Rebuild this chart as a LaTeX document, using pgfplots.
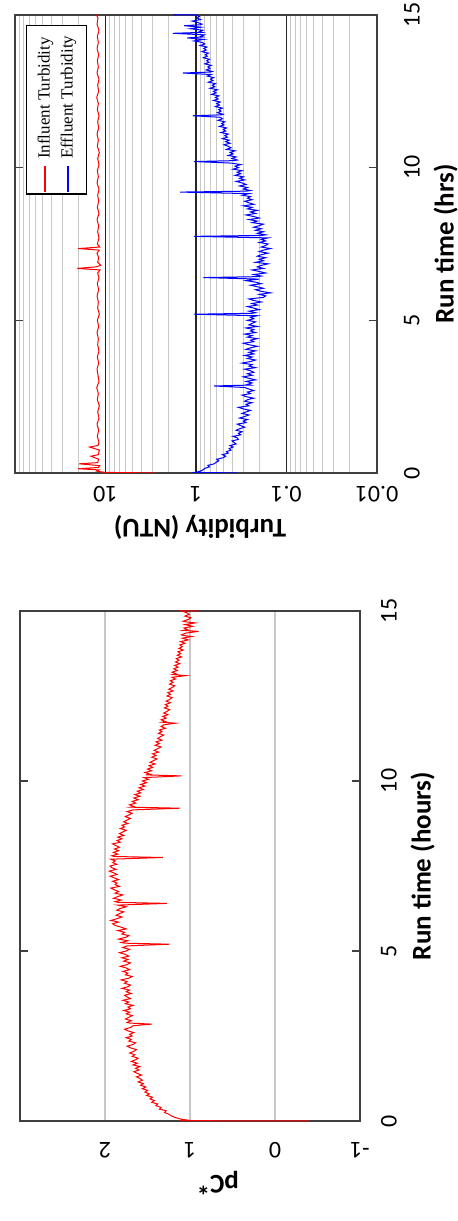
\documentclass[border=0pt]{standalone}
\usepackage{fontspec}
\setmainfont{Carlito}
\newfontfamily\legendfont{Liberation Serif}
\usepackage{pgfplots}
\pgfplotsset{compat=1.18}
\definecolor{framegray}{RGB}{64,64,64}
\definecolor{gridgray}{RGB}{200,200,200}

\pgfplotsset{
  rotated/.style={
    scale only axis,
    anchor=south west,
    ymin=0, ymax=15, ytick={0,5,10,15},
    yticklabel pos=right,
    ytick pos=both,
    tick align=inside,
    major tick length=4pt,
    x dir=reverse,
    axis line style={draw=framegray, line width=0.6pt},
    ytick style={draw=framegray, line width=0.6pt},
    xtick style={draw=none},
    /pgf/number format/assume math mode=true,
    tick label style={font=\fontsize{12}{14}\selectfont},
    x tick label style={rotate=180, anchor=south},
    y tick label style={rotate=90, anchor=north},
    label style={font=\fontsize{13.5}{16}\selectfont\bfseries},
    xlabel style={rotate=180, anchor=south},
    ylabel style={anchor=north},
  }
}

\begin{document}
\begin{tikzpicture}
\useasboundingbox (0,0) rectangle (229pt,610.5pt);

% turbidity, run time on the vertical axis
\begin{axis}[rotated,
  at={(7.5pt,374pt)}, width=181pt, height=229pt,
  xmode=log, xmin=0.01, xmax=100,
  xtick={0.01,0.1,1,10,100}, xticklabels={0.01,0.1,1,10,},
  minor xtick={0.02,0.03,0.04,0.05,0.06,0.07,0.08,0.09,0.2,0.3,0.4,0.5,0.6,0.7,0.8,0.9,2,3,4,5,6,7,8,9,20,30,40,50,60,70,80,90},
  xmajorgrids, xminorgrids,
  major x grid style={draw=black!85, line width=0.7pt},
  minor x grid style={draw=gridgray, line width=0.4pt},
  xticklabel shift=3pt, yticklabel shift=10pt,
  xlabel={Turbidity (NTU)}, ylabel={Run time (hrs)},
  xlabel style={at={(ticklabel cs:0.511)}},
]
\addplot[red, line width=0.5pt] table[x=ntu, y=t] {
t ntu
0.00 2.8
0.02 10.2
0.06 12.5
0.10 11.8
0.14 20.0
0.18 12.0
0.24 11.6
0.30 19.5
0.34 12.2
0.45 11.9
0.55 14.5
0.60 12.0
0.75 11.7
0.85 15.0
0.90 12.1
1.0 11.8
1.2 12.3
1.4 11.9
1.6 12.4
1.8 11.8
2.0 12.2
2.2 11.7
2.4 12.3
2.6 12.0
2.8 12.5
3.0 11.8
3.2 12.1
3.4 12.4
3.6 11.9
3.8 12.3
4.0 11.8
4.2 12.2
4.4 12.0
4.6 12.4
4.8 11.9
5.0 12.3
5.2 11.7
5.4 12.2
5.6 12.0
5.8 12.4
6.0 11.9
6.2 12.3
6.4 11.8
6.55 12.2
6.65 11.5
6.70 20.5
6.75 12.8
6.80 11.3
6.9 12.2
7.05 11.9
7.2 12.4
7.3 11.7
7.35 20.0
7.40 11.6
7.5 12.3
7.7 11.8
7.9 12.2
8.1 11.9
8.3 12.4
8.5 11.8
8.7 12.3
8.9 11.9
9.1 12.2
9.3 11.8
9.5 12.4
9.7 12.0
9.9 12.3
10.1 11.8
10.3 12.2
10.5 11.7
10.7 12.3
10.9 12.0
11.1 12.4
11.3 11.9
11.5 12.2
11.7 11.8
11.9 12.3
12.1 12.0
12.3 12.5
12.5 11.9
12.7 12.2
12.9 11.8
13.1 12.4
13.3 12.0
13.5 12.3
13.7 11.9
13.9 12.4
14.1 12.0
14.3 12.3
14.5 11.8
14.7 12.4
14.9 12.1
15.0 12.6
};
\addplot[blue, line width=0.5pt] table[x=ntu, y=t] {
t ntu
0.00 0.35
0.02 1.02
0.05 0.92
0.10 0.84
0.15 0.80
0.20 0.71
0.25 0.74
0.30 0.63
0.35 0.60
0.40 0.56
0.45 0.59
0.50 0.50
0.55 0.47
0.60 0.51
0.65 0.44
0.70 0.46
0.75 0.41
0.80 0.43
0.85 0.39
0.90 0.42
0.95 0.36
1.00 0.38
1.05 0.40
1.10 0.34
1.15 0.35
1.20 0.39
1.25 0.32
1.30 0.34
1.35 0.31
1.40 0.36
1.45 0.33
1.50 0.29
1.55 0.32
1.60 0.35
1.65 0.28
1.70 0.30
1.75 0.27
1.80 0.33
1.85 0.29
1.90 0.26
1.95 0.31
2.00 0.28
2.05 0.25
2.10 0.30
2.15 0.34
2.20 0.26
2.25 0.28
2.30 0.24
2.35 0.29
2.40 0.27
2.45 0.23
2.50 0.28
2.55 0.31
2.60 0.25
2.65 0.27
2.70 0.23
2.75 0.26
2.80 0.29
2.85 0.63
2.88 0.25
2.90 0.27
2.95 0.24
3.00 0.28
3.05 0.22
3.10 0.26
3.15 0.30
3.20 0.24
3.25 0.27
3.30 0.23
3.35 0.25
3.40 0.29
3.45 0.22
3.50 0.26
3.55 0.24
3.60 0.31
3.65 0.25
3.70 0.22
3.75 0.27
3.80 0.24
3.85 0.29
3.90 0.23
3.95 0.26
4.00 0.22
4.05 0.28
4.10 0.25
4.15 0.21
4.20 0.26
4.25 0.30
4.30 0.23
4.35 0.25
4.40 0.21
4.45 0.27
4.50 0.24
4.55 0.29
4.60 0.22
4.65 0.25
4.70 0.23
4.75 0.28
4.80 0.21
4.85 0.26
4.90 0.24
4.95 0.22
5.00 0.27
5.05 0.23
5.10 0.25
5.15 0.21
5.20 1.05
5.23 0.24
5.25 0.22
5.30 0.26
5.35 0.20
5.40 0.23
5.45 0.27
5.50 0.21
5.55 0.24
5.60 0.19
5.65 0.23
5.70 0.26
5.75 0.18
5.80 0.17
5.85 0.20
5.90 0.15
5.95 0.19
6.00 0.22
6.05 0.18
6.10 0.21
6.15 0.25
6.20 0.19
6.25 0.22
6.30 0.28
6.35 0.20
6.40 0.83
6.43 0.21
6.45 0.19
6.50 0.23
6.55 0.17
6.60 0.20
6.65 0.24
6.70 0.18
6.75 0.21
6.80 0.19
6.85 0.16
6.90 0.22
6.95 0.18
7.00 0.20
7.05 0.17
7.10 0.21
7.15 0.19
7.20 0.16
7.25 0.20
7.30 0.18
7.35 0.15
7.40 0.19
7.45 0.17
7.50 0.16
7.55 0.20
7.60 0.17
7.65 0.19
7.70 0.16
7.75 1.05
7.78 0.19
7.80 0.17
7.85 0.21
7.90 0.18
7.95 0.22
8.00 0.19
8.05 0.23
8.10 0.20
8.15 0.18
8.20 0.24
8.25 0.21
8.30 0.26
8.35 0.20
8.40 0.23
8.45 0.28
8.50 0.22
8.55 0.25
8.60 0.21
8.65 0.27
8.70 0.24
8.75 0.30
8.80 0.23
8.85 0.26
8.90 0.29
8.95 0.24
9.00 0.27
9.05 0.25
9.10 0.31
9.15 0.26
9.20 1.50
9.23 0.28
9.25 0.25
9.30 0.30
9.35 0.27
9.40 0.33
9.45 0.28
9.50 0.31
9.55 0.36
9.60 0.29
9.65 0.33
9.70 0.30
9.75 0.37
9.80 0.32
9.85 0.35
9.90 0.31
9.95 0.39
10.00 0.34
10.05 0.37
10.10 0.32
10.15 0.41
10.20 1.05
10.23 0.38
10.25 0.35
10.30 0.40
10.35 0.36
10.40 0.44
10.45 0.39
10.50 0.42
10.55 0.37
10.60 0.46
10.65 0.41
10.70 0.44
10.75 0.49
10.80 0.42
10.85 0.47
10.90 0.43
10.95 0.51
11.00 0.45
11.05 0.48
11.10 0.44
11.15 0.53
11.20 0.47
11.25 0.50
11.30 0.46
11.35 0.55
11.40 0.49
11.45 0.52
11.50 0.48
11.55 0.57
11.60 0.51
11.65 0.54
11.70 1.08
11.73 0.52
11.75 0.50
11.80 0.58
11.85 0.53
11.90 0.56
11.95 0.51
12.00 0.61
12.05 0.55
12.10 0.59
12.15 0.54
12.20 0.64
12.25 0.57
12.30 0.61
12.35 0.56
12.40 0.67
12.45 0.60
12.50 0.64
12.55 0.58
12.60 0.70
12.65 0.62
12.70 0.66
12.75 0.61
12.80 0.73
12.85 0.65
12.90 0.69
12.95 0.64
13.00 0.75
13.05 0.68
13.10 1.40
13.13 0.70
13.15 0.66
13.20 0.77
13.25 0.70
13.30 0.74
13.35 0.68
13.40 0.80
13.45 0.72
13.50 0.76
13.55 0.71
13.60 0.83
13.65 0.75
13.70 0.79
13.75 0.73
13.80 0.86
13.85 0.77
13.90 0.82
13.95 0.76
14.00 0.90
14.05 0.80
14.10 0.85
14.15 1.05
14.20 0.82
14.25 1.25
14.28 0.84
14.30 0.88
14.35 0.81
14.40 1.80
14.43 0.86
14.45 0.92
14.50 0.84
14.55 1.15
14.60 0.88
14.65 1.35
14.68 0.90
14.70 0.86
14.75 0.95
14.80 1.10
14.85 0.89
14.90 0.97
14.95 0.92
15.00 1.00
15.00 1.80
};
\node[rotate=90, anchor=north east, draw=black, fill=white, line width=0.6pt,
  inner xsep=1pt, inner ysep=3.5pt, font=\legendfont\fontsize{8.5}{11.5}\selectfont]
  at (rel axis cs:0.03,0.978) {%
  \begin{tabular}{@{}l@{\hspace{3.5pt}}l@{\hspace{4pt}}}
  \textcolor{red}{\rule[0.5ex]{13pt}{0.6pt}} & Influent Turbidity\\
  \textcolor{blue}{\rule[0.5ex]{13pt}{0.6pt}} & Effluent Turbidity
  \end{tabular}};
\end{axis}

% pC*, run time on the vertical axis
\begin{axis}[rotated,
  at={(10pt,50pt)}, width=170pt, height=255pt,
  xmin=-1, xmax=3,
  xtick={-1,0,1,2}, xticklabels={-1,0,1,2},
  xmajorgrids,
  major x grid style={draw=gridgray, line width=0.6pt},
  xticklabel shift=7pt, yticklabel shift=7pt,
  xlabel={pC*}, ylabel={Run time (hours)},
  xlabel style={at={(ticklabel cs:0.582)}},
]
\addplot[red, line width=0.5pt] table[x=pc, y=t] {
t pc
0.00 -0.41
0.01 1.12
0.03 1.04
0.05 1.10
0.10 1.17
0.15 1.22
0.20 1.25
0.25 1.30
0.30 1.28
0.35 1.36
0.40 1.34
0.45 1.40
0.50 1.38
0.55 1.45
0.60 1.42
0.65 1.47
0.70 1.44
0.75 1.51
0.80 1.48
0.85 1.53
0.90 1.50
0.95 1.56
1.00 1.52
1.05 1.58
1.10 1.55
1.15 1.61
1.20 1.56
1.25 1.59
1.30 1.63
1.35 1.57
1.40 1.62
1.45 1.66
1.50 1.60
1.55 1.64
1.60 1.59
1.65 1.67
1.70 1.62
1.75 1.69
1.80 1.64
1.85 1.61
1.90 1.68
1.95 1.65
2.00 1.71
2.05 1.66
2.10 1.63
2.15 1.70
2.20 1.74
2.25 1.67
2.30 1.64
2.35 1.72
2.40 1.69
2.45 1.75
2.50 1.68
2.55 1.71
2.60 1.66
2.65 1.73
2.70 1.77
2.75 1.70
2.80 1.67
2.85 1.45
2.88 1.71
2.90 1.74
2.95 1.69
3.00 1.76
3.05 1.72
3.10 1.68
3.15 1.75
3.20 1.71
3.25 1.78
3.30 1.70
3.35 1.73
3.40 1.67
3.45 1.76
3.50 1.72
3.55 1.79
3.60 1.70
3.65 1.74
3.70 1.77
3.75 1.69
3.80 1.75
3.85 1.71
3.90 1.80
3.95 1.73
4.00 1.70
4.05 1.77
4.10 1.74
4.15 1.81
4.20 1.72
4.25 1.68
4.30 1.76
4.35 1.73
4.40 1.79
4.45 1.71
4.50 1.75
4.55 1.82
4.60 1.74
4.65 1.70
4.70 1.78
4.75 1.73
4.80 1.80
4.85 1.72
4.90 1.76
4.95 1.83
5.00 1.75
5.05 1.71
5.10 1.79
5.15 1.74
5.20 1.24
5.23 1.77
5.25 1.81
5.30 1.73
5.35 1.84
5.40 1.76
5.45 1.72
5.50 1.80
5.55 1.77
5.60 1.85
5.65 1.75
5.70 1.81
5.75 1.88
5.80 1.91
5.85 1.84
5.90 1.93
5.95 1.86
6.00 1.80
6.05 1.87
6.10 1.83
6.15 1.78
6.20 1.86
6.25 1.82
6.30 1.75
6.35 1.85
6.40 1.27
6.43 1.84
6.45 1.88
6.50 1.81
6.55 1.90
6.60 1.85
6.65 1.79
6.70 1.88
6.75 1.84
6.80 1.89
6.85 1.93
6.90 1.83
6.95 1.88
7.00 1.86
7.05 1.91
7.10 1.84
7.15 1.89
7.20 1.94
7.25 1.86
7.30 1.90
7.35 1.95
7.40 1.87
7.45 1.92
7.50 1.94
7.55 1.86
7.60 1.91
7.65 1.88
7.70 1.93
7.75 1.32
7.78 1.89
7.80 1.92
7.85 1.85
7.90 1.90
7.95 1.84
8.00 1.89
8.05 1.83
8.10 1.87
8.15 1.91
8.20 1.82
8.25 1.86
8.30 1.80
8.35 1.85
8.40 1.78
8.45 1.83
8.50 1.79
8.55 1.75
8.60 1.82
8.65 1.77
8.70 1.80
8.75 1.73
8.80 1.78
8.85 1.74
8.90 1.70
8.95 1.76
9.00 1.72
9.05 1.68
9.10 1.74
9.15 1.67
9.20 1.12
9.23 1.70
9.25 1.66
9.30 1.71
9.35 1.64
9.40 1.68
9.45 1.61
9.50 1.66
9.55 1.59
9.60 1.65
9.65 1.58
9.70 1.62
9.75 1.55
9.80 1.60
9.85 1.53
9.90 1.58
9.95 1.51
10.00 1.56
10.05 1.49
10.10 1.54
10.15 1.10
10.18 1.52
10.20 1.47
10.25 1.53
10.30 1.45
10.35 1.50
10.40 1.44
10.45 1.48
10.50 1.41
10.55 1.47
10.60 1.43
10.65 1.39
10.70 1.45
10.75 1.40
10.80 1.44
10.85 1.37
10.90 1.42
10.95 1.38
11.00 1.34
11.05 1.41
11.10 1.36
11.15 1.40
11.20 1.33
11.25 1.38
11.30 1.35
11.35 1.31
11.40 1.37
11.45 1.33
11.50 1.36
11.55 1.29
11.60 1.34
11.65 1.31
11.70 1.17
11.73 1.33
11.75 1.29
11.80 1.34
11.85 1.28
11.90 1.32
11.95 1.26
12.00 1.31
12.05 1.27
12.10 1.24
12.15 1.30
12.20 1.26
12.25 1.29
12.30 1.23
12.35 1.28
12.40 1.24
12.45 1.21
12.50 1.27
12.55 1.23
12.60 1.26
12.65 1.20
12.70 1.25
12.75 1.21
12.80 1.18
12.85 1.24
12.90 1.20
12.95 1.23
13.00 1.17
13.05 1.21
13.10 1.05
13.13 1.20
13.15 1.16
13.20 1.21
13.25 1.15
13.30 1.19
13.35 1.14
13.40 1.18
13.45 1.12
13.50 1.17
13.55 1.13
13.60 1.16
13.65 1.10
13.70 1.15
13.75 1.11
13.80 1.14
13.85 1.08
13.90 1.13
13.95 1.09
14.00 1.12
14.05 1.06
14.10 1.11
14.15 1.02
14.20 1.09
14.25 0.98
14.28 1.08
14.30 1.10
14.35 1.05
14.40 0.90
14.43 1.08
14.45 1.03
14.50 1.07
14.55 0.97
14.60 1.06
14.65 0.94
14.68 1.05
14.70 1.08
14.75 1.02
14.80 0.99
14.85 1.06
14.90 1.01
14.95 1.04
15.00 1.10
15.00 0.90
};
\end{axis}
\end{tikzpicture}
\end{document}
